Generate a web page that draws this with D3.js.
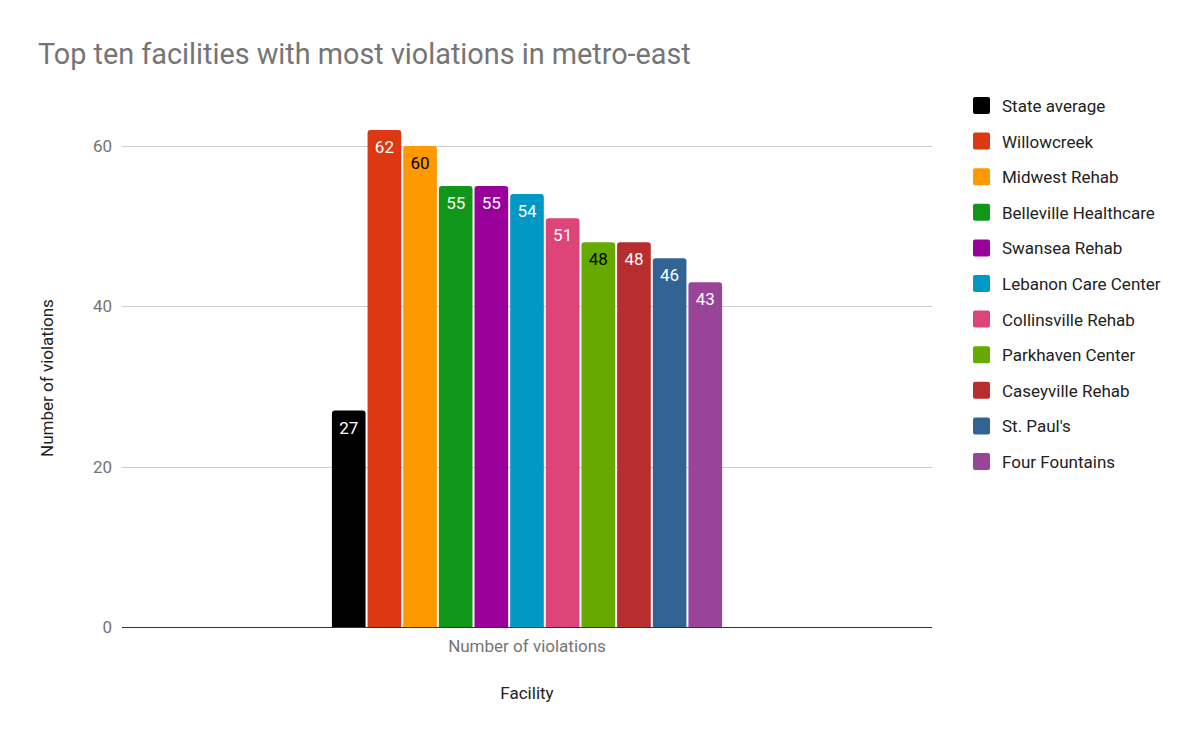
<!DOCTYPE html>
<html>
<head>
<meta charset="utf-8">
<script src="https://cdn.jsdelivr.net/npm/d3@7"></script>
<style>
  body { margin: 0; background: #fff; }
  svg { font-family: Roboto, "Noto Sans", sans-serif; }
</style>
</head>
<body>
<div id="chart"></div>
<script>
'use strict';

// data
var facilities = ['State average', 'Willowcreek', 'Midwest Rehab', 'Belleville Healthcare',
  'Swansea Rehab', 'Lebanon Care Center', 'Collinsville Rehab', 'Parkhaven Center',
  'Caseyville Rehab', "St. Paul's", 'Four Fountains'];
var violations = [27, 62, 60, 55, 55, 54, 51, 48, 48, 46, 43];
var colors = ['#000000', '#dc3912', '#ff9900', '#109618', '#990099', '#0099c6',
  '#dd4477', '#66aa00', '#b82e2e', '#316395', '#994499'];
var labelColors = ['#fff', '#fff', '#000', '#fff', '#fff', '#fff', '#fff', '#000', '#fff', '#fff', '#fff'];
var categories = ['Number of violations'];
var yTicks = [0, 20, 40, 60];

var width = 1200,
  height = 741,
  margin = { top: 130, right: 268, bottom: 114, left: 122 };

var svg = d3.select('#chart').append('svg')
  .attr('width', width)
  .attr('height', height);

var plotW = width - margin.left - margin.right,
  plotH = height - margin.top - margin.bottom;

var y = d3.scaleLinear().domain([0, 62]).range([plotH, plotH - 62 * (481 / 60)]);

var x0 = d3.scaleBand().domain(categories).range([0, plotW]).paddingInner(0).paddingOuter(0.538);
var x1 = d3.scaleBand().domain(facilities).range([0, x0.bandwidth()]).paddingInner(0.056);

var g = svg.append('g').attr('transform', 'translate(' + margin.left + ',' + margin.top + ')');

// title
svg.append('text')
  .attr('x', 38)
  .attr('y', 64)
  .attr('fill', '#757575')
  .attr('font-size', 28.8)
  .text('Top ten facilities with most violations in metro-east');

// gridlines + y tick labels
g.selectAll('.grid')
  .data(yTicks.filter(d => d > 0))
  .enter().append('line')
  .attr('class', 'grid')
  .attr('x1', 0)
  .attr('x2', plotW)
  .attr('y1', d => Math.round(y(d)) + 0.5)
  .attr('y2', d => Math.round(y(d)) + 0.5)
  .attr('stroke', '#cccccc');

var yAxis = d3.axisLeft(y).tickValues(yTicks).tickSize(0).tickPadding(10);
g.append('g')
  .call(yAxis)
  .call(a => a.select('.domain').remove())
  .selectAll('text')
  .attr('fill', '#757575')
  .attr('font-size', 17)
  .attr('font-family', 'Roboto, sans-serif');

// bars
var group = g.append('g').attr('transform', 'translate(' + x0(categories[0]) + ',0)');

var rows = facilities.map((f, i) => ({ name: f, value: violations[i], color: colors[i], label: labelColors[i] }));

group.selectAll('.bar')
  .data(rows)
  .enter().append('path')
  .attr('class', 'bar')
  .attr('fill', d => d.color)
  .attr('d', d => {
    var bx = x1(d.name), bw = x1.bandwidth(), by = y(d.value), r = 3;
    return 'M' + bx + ',' + plotH +
      'V' + (by + r) +
      'Q' + bx + ',' + by + ' ' + (bx + r) + ',' + by +
      'H' + (bx + bw - r) +
      'Q' + (bx + bw) + ',' + by + ' ' + (bx + bw) + ',' + (by + r) +
      'V' + plotH + 'Z';
  });

group.selectAll('.val')
  .data(rows)
  .enter().append('text')
  .attr('class', 'val')
  .attr('x', d => x1(d.name) + x1.bandwidth() / 2)
  .attr('y', d => y(d.value) + 23)
  .attr('text-anchor', 'middle')
  .attr('font-size', 17)
  .attr('fill', d => d.label)
  .text(d => d.value);

// baseline
g.append('line')
  .attr('x1', 0)
  .attr('x2', plotW)
  .attr('y1', plotH + 0.5)
  .attr('y2', plotH + 0.5)
  .attr('stroke', '#333')
  .attr('stroke-width', 1);

// x axis category label
var xAxis = d3.axisBottom(x0).tickSize(0).tickPadding(13);
g.append('g')
  .attr('transform', 'translate(0,' + plotH + ')')
  .call(xAxis)
  .call(a => a.select('.domain').remove())
  .selectAll('text')
  .attr('fill', '#757575')
  .attr('font-size', 17)
  .attr('font-family', 'Roboto, sans-serif');

// axis titles
svg.append('text')
  .attr('x', margin.left + plotW / 2)
  .attr('y', 699)
  .attr('text-anchor', 'middle')
  .attr('font-size', 17)
  .attr('fill', '#222')
  .text('Facility');

svg.append('text')
  .attr('transform', 'translate(53,' + 378 + ') rotate(-90)')
  .attr('text-anchor', 'middle')
  .attr('font-size', 17)
  .attr('fill', '#222')
  .text('Number of violations');

// legend
var legend = svg.append('g').attr('transform', 'translate(973,97)');
var item = legend.selectAll('.item')
  .data(rows)
  .enter().append('g')
  .attr('class', 'item')
  .attr('transform', (d, i) => 'translate(0,' + (i * 35.6) + ')');

item.append('rect')
  .attr('width', 17)
  .attr('height', 17)
  .attr('rx', 2)
  .attr('fill', d => d.color);

item.append('text')
  .attr('x', 29)
  .attr('y', 15)
  .attr('font-size', 17)
  .attr('fill', '#222')
  .text(d => d.name);
</script>
</body>
</html>
